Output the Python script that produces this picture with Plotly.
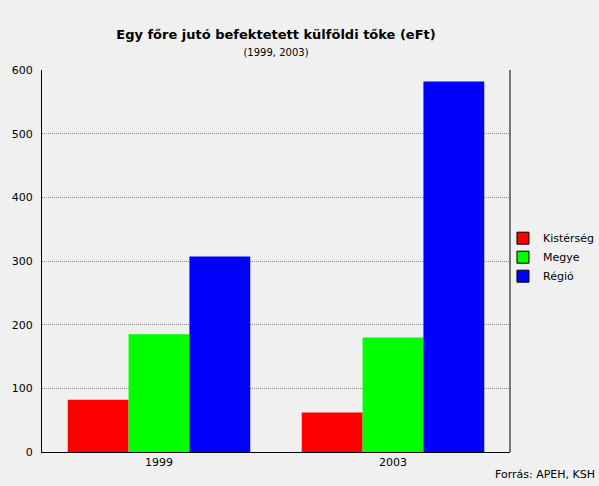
import plotly.graph_objects as go

years = ["1999", "2003"]
series_names = ["Kistérség", "Megye", "Régió"]
kisterseg = [82, 62]
megye = [185, 180]
regio = [307, 582]
colors = ["#ff0000", "#00ff00", "#0000ff"]
y_ticks = [0, 100, 200, 300, 400, 500, 600]

values = [kisterseg, megye, regio]
fig = go.Figure()
for name, vals, col in zip(series_names, values, colors):
    fig.add_trace(go.Bar(x=years, y=vals, name=name, marker=dict(color=col, line=dict(width=0)),
                         showlegend=False))
for name, col in zip(series_names, colors):
    fig.add_trace(go.Scatter(x=[None], y=[None], mode="markers", name=name,
                             marker=dict(symbol="square", size=12, color=col,
                                         line=dict(color="#000000", width=1))))

font = "DejaVu Sans"
fig.update_layout(
    width=599, height=486,
    paper_bgcolor="#f0f0f0", plot_bgcolor="#f0f0f0",
    margin=dict(l=42, r=89, t=70, b=34, autoexpand=False),
    barmode="group", bargap=0.22, bargroupgap=0,
    font=dict(family=font, size=11, color="#000000"),
    title=dict(text="<b>Egy főre jutó befektetett külföldi tőke (eFt)</b><br><span style='font-size:10px'>(1999, 2003)</span>",
               x=0.5, xref="paper", xanchor="center", y=0.92, yanchor="middle",
               font=dict(family=font, size=13, color="#000000")),
    xaxis=dict(showline=True, linecolor="#000000", linewidth=1, ticks="", showgrid=False,
               tickfont=dict(size=11), range=[-0.5, 1.5]),
    yaxis=dict(range=[0, 600], tickvals=y_ticks, showline=True, linecolor="#000000", linewidth=1,
               showgrid=True, gridcolor="#888888", griddash="1px,1px", gridwidth=1,
               zeroline=False, ticks="", ticklabelstandoff=6, tickfont=dict(size=11)),
    legend=dict(x=0.985, y=0.51, xanchor="left", yanchor="middle", bgcolor="rgba(0,0,0,0)",
                font=dict(size=11), itemwidth=30, tracegroupgap=0),
    shapes=[dict(type="line", xref="paper", yref="paper", x0=1, x1=1, y0=0, y1=1,
                 line=dict(color="#000000", width=1))],
    annotations=[dict(text="Forrás: APEH, KSH", xref="paper", yref="paper", x=1.186, y=-0.058,
                      xanchor="right", yanchor="middle", showarrow=False, font=dict(size=11))],
)
fig.write_html("out.html", config={"displayModeBar": False},
               post_script="document.body.style.margin='0';document.body.style.background='#f0f0f0';")
